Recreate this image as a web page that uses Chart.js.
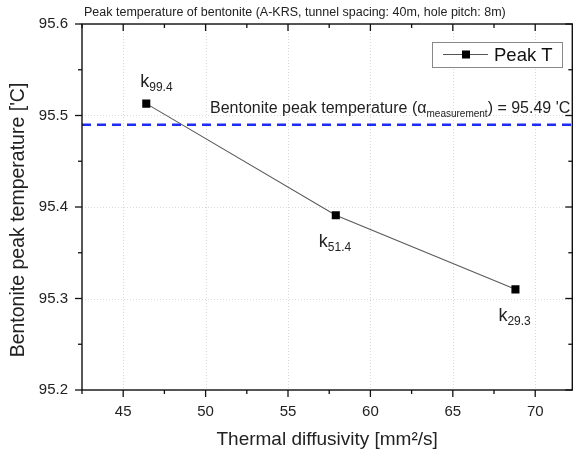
<!DOCTYPE html>
<html>
<head>
<meta charset="utf-8">
<script src="https://cdn.jsdelivr.net/npm/chart.js@4.4.1/dist/chart.umd.min.js"></script>
<style>
  body { margin: 0; background: #fff; }
  canvas { display: block; }
</style>
</head>
<body>
<canvas id="peakChart" width="578" height="456"></canvas>
<script>
// data
const diffusivity = [46.4, 57.9, 68.8];
const peakTemp = [95.513, 95.391, 95.310];
const kLabels = ["99.4", "51.4", "29.3"];
const measuredPeak = 95.49;
const xTicks = [45, 50, 55, 60, 65, 70];
const yTicks = [95.2, 95.3, 95.4, 95.5, 95.6];
const xMinor = [42.5, 47.5, 52.5, 57.5, 62.5, 67.5];
const yMinor = [95.25, 95.35, 95.45, 95.55];
const xRange = [42.5, 72.25];
const yRange = [95.2, 95.6];

const FONT = "'Liberation Sans', Arial, sans-serif";

const framePlugin = {
    id: "frame",
    beforeDatasetsDraw(chart) {
        const { ctx, chartArea: a, scales } = chart;
        ctx.save();
        ctx.strokeStyle = "#dadada";
        ctx.lineWidth = 1;
        ctx.setLineDash([1, 2]);
        xTicks.forEach(v => {
            const x = Math.round(scales.x.getPixelForValue(v)) + 0.5;
            ctx.beginPath(); ctx.moveTo(x, a.top); ctx.lineTo(x, a.bottom); ctx.stroke();
        });
        yTicks.forEach(v => {
            const y = Math.round(scales.y.getPixelForValue(v)) + 0.5;
            ctx.beginPath(); ctx.moveTo(a.left, y); ctx.lineTo(a.right, y); ctx.stroke();
        });
        ctx.restore();
    },
    afterDraw(chart) {
        const { ctx, chartArea: a, scales } = chart;
        ctx.save();
        ctx.strokeStyle = "#111";
        ctx.lineWidth = 1.4;
        ctx.strokeRect(a.left, a.top, a.right - a.left, a.bottom - a.top);

        // ticks: bottom/left out, top/right in
        const tick = (x1, y1, x2, y2) => { ctx.beginPath(); ctx.moveTo(x1, y1); ctx.lineTo(x2, y2); ctx.stroke(); };
        ctx.lineWidth = 1.3;
        xTicks.forEach(v => {
            const x = scales.x.getPixelForValue(v);
            tick(x, a.bottom, x, a.bottom + 7);
            tick(x, a.top, x, a.top + 7);
        });
        xMinor.forEach(v => {
            const x = scales.x.getPixelForValue(v);
            tick(x, a.bottom, x, a.bottom + 4);
            tick(x, a.top, x, a.top + 4);
        });
        yTicks.forEach(v => {
            const y = scales.y.getPixelForValue(v);
            tick(a.left - 7, y, a.left, y);
            tick(a.right - 7, y, a.right, y);
        });
        yMinor.forEach(v => {
            const y = scales.y.getPixelForValue(v);
            tick(a.left - 4, y, a.left, y);
            tick(a.right - 4, y, a.right, y);
        });

        // titles
        ctx.fillStyle = "#222";
        ctx.textBaseline = "middle";
        ctx.textAlign = "left";
        ctx.font = "12.5px " + FONT;
        ctx.fillText("Peak temperature of bentonite (A-KRS, tunnel spacing: 40m, hole pitch: 8m)", 84, 13);

        ctx.textAlign = "center";
        ctx.font = "19px " + FONT;
        ctx.fillText("Thermal diffusivity [mm²/s]", (a.left + a.right) / 2, 440);
        ctx.save();
        ctx.translate(19, 220);
        ctx.rotate(-Math.PI / 2);
        ctx.font = "19.5px " + FONT;
        ctx.fillText("Bentonite peak temperature ['C]", 0, 0);
        ctx.restore();

        // label for the measured line
        ctx.textAlign = "left";
        ctx.textBaseline = "alphabetic";
        const yLine = scales.y.getPixelForValue(measuredPeak) - 11.5;
        const part1 = "Bentonite peak temperature (α";
        const sub = "measurement";
        const part2 = ") = 95.49 'C";
        ctx.font = "16px " + FONT;
        const w1 = ctx.measureText(part1).width, w3 = ctx.measureText(part2).width;
        ctx.font = "10px " + FONT;
        const w2 = ctx.measureText(sub).width;
        let x0 = a.right - 2 - (w1 + w2 + w3);
        ctx.font = "16px " + FONT;
        ctx.fillText(part1, x0, yLine);
        ctx.font = "10px " + FONT;
        ctx.fillText(sub, x0 + w1, yLine + 4);
        ctx.font = "16px " + FONT;
        ctx.fillText(part2, x0 + w1 + w2, yLine);

        // k labels next to the points
        const offs = [[-6, -17], [-17, 32], [-17, 32]];
        const pts = chart.getDatasetMeta(0).data;
        pts.forEach((p, i) => {
            const lx = p.x + offs[i][0], ly = p.y + offs[i][1];
            ctx.font = "18px " + FONT;
            ctx.fillText("k", lx, ly);
            const kw = ctx.measureText("k").width;
            ctx.font = "12px " + FONT;
            ctx.fillText(kLabels[i], lx + kw, ly + 4);
        });

        // legend
        ctx.fillStyle = "#fff";
        ctx.fillRect(432, 42, 130, 25);
        ctx.strokeStyle = "#888";
        ctx.lineWidth = 1;
        ctx.strokeRect(432.5, 42.5, 130, 25);
        ctx.strokeStyle = "#555";
        tick(443, 54.5, 488, 54.5);
        ctx.fillStyle = "#000";
        ctx.fillRect(462, 50.5, 8, 8);
        ctx.fillStyle = "#111";
        ctx.font = "18.5px " + FONT;
        ctx.textBaseline = "middle";
        ctx.fillText(chart.data.datasets[0].label, 494, 55.5);
        ctx.restore();
    }
};

new Chart(document.getElementById("peakChart"), {
    type: "scatter",
    data: {
        datasets: [
            {
                label: "Peak T",
                data: diffusivity.map((x, i) => ({ x: x, y: peakTemp[i] })),
                showLine: true,
                borderColor: "#5a5a5a",
                borderWidth: 1.1,
                pointStyle: "rect",
                pointRadius: 5.7,
                pointBackgroundColor: "#000",
                pointBorderColor: "#000",
                pointBorderWidth: 0
            },
            {
                label: "measurement",
                data: [{ x: xRange[0], y: measuredPeak }, { x: xRange[1], y: measuredPeak }],
                showLine: true,
                borderColor: "#1c2cf5",
                borderWidth: 2.5,
                borderDash: [9, 6],
                pointRadius: 0
            }
        ]
    },
    options: {
        responsive: false,
        animation: false,
        devicePixelRatio: 1,
        layout: { padding: { top: 24, right: 2, left: 0, bottom: 0 } },
        plugins: { legend: { display: false }, tooltip: { enabled: false } },
        scales: {
            x: {
                type: "linear",
                min: xRange[0],
                max: xRange[1],
                grid: { display: false, drawTicks: false, tickLength: 0 },
                border: { display: false },
                ticks: { color: "#222", font: { family: FONT, size: 15 }, padding: 13, maxRotation: 0, autoSkip: false },
                afterBuildTicks: s => { s.ticks = xTicks.map(v => ({ value: v })); },
                afterFit: s => { s.height = 66; }
            },
            y: {
                type: "linear",
                min: yRange[0],
                max: yRange[1],
                grid: { display: false, drawTicks: false, tickLength: 0 },
                border: { display: false },
                ticks: { color: "#222", font: { family: FONT, size: 15 }, padding: 14, autoSkip: false,
                    callback: v => v.toFixed(1) },
                afterBuildTicks: s => { s.ticks = yTicks.map(v => ({ value: v })); },
                afterFit: s => { s.width = 82; }
            }
        }
    },
    plugins: [framePlugin]
});
</script>
</body>
</html>
